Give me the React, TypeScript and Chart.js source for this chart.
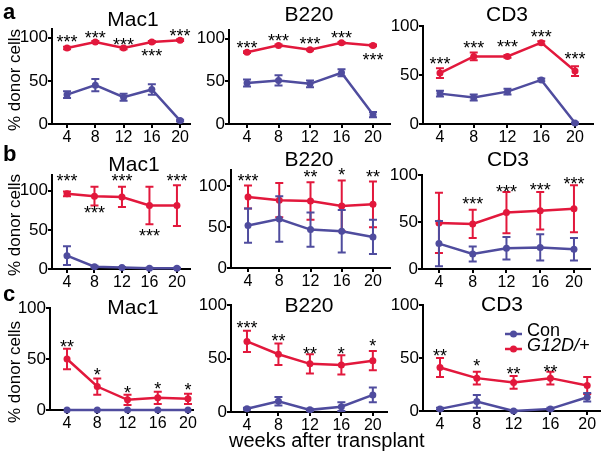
import React, { useEffect, useRef } from "react";
import { Chart, registerables } from "chart.js";
Chart.register(...registerables);

const RED = "#E2183C";
const BLUE = "#4F4C9E";
const FONT = "'Liberation Sans', Arial, sans-serif";

const weeks = [4, 8, 12, 16, 20];
const yTickValues = [0, 50, 100];
const seriesNames = ["Con", "G12D/+"];

// ---- row a ----
const aMac1Con = [34, 45, 31, 40, 4];
const aMac1ConErr = [4, 7, 4, 6, 1];
const aMac1G12D = [88, 95, 88, 95, 97];
const aMac1G12DErr = [1.5, 1, 1.5, 1, 1];
const aMac1Stars = ["***", "***", "***", "***", "***"];
const aMac1StarY = [100, 104, 96, 83, 107];

const aB220Con = [48, 51, 47, 60, 11];
const aB220ConErr = [4, 6, 4, 4, 3];
const aB220G12D = [84, 92, 87, 95, 92];
const aB220G12DErr = [1, 1, 1, 1, 1];
const aB220Stars = ["***", "***", "***", "***", "***"];
const aB220StarY = [94, 102, 98, 105, 79];

const aCD3Con = [31, 27, 33, 45, 1];
const aCD3ConErr = [3, 3, 3, 1.5, 0.5];
const aCD3G12D = [52, 69, 69, 83, 54];
const aCD3G12DErr = [5, 4, 1.5, 1.5, 5];
const aCD3Stars = ["***", "***", "***", "***", "***"];
const aCD3StarY = [65, 82, 83, 93, 70];

// ---- row b ----
const bMac1Con = [17, 3, 2, 1, 1];
const bMac1ConErr = [12, 1, 0.5, 0.5, 0.5];
const bMac1G12D = [96, 93, 92, 81, 81];
const bMac1G12DErr = [3, 12, 13, 24, 26];
const bMac1Stars = ["***", "***", "***", "***", "***"];
const bMac1StarY = [118, 76, 117, 47, 117];

const bB220Con = [52, 60, 47, 45, 38];
const bB220ConErr = [21, 28, 21, 26, 21];
const bB220G12D = [87, 83, 82, 76, 78];
const bB220G12DErr = [14, 21, 23, 31, 28];
const bB220Stars = ["***", "", "**", "*", "**"];
const bB220StarY = [111, 0, 116, 119, 116];

const bCD3Con = [27, 16, 22, 23, 21];
const bCD3ConErr = [24, 8, 12, 14, 12];
const bCD3G12D = [49, 48, 60, 62, 64];
const bCD3G12DErr = [32, 15, 22, 20, 25];
const bCD3Stars = ["", "***", "***", "***", "***"];
const bCD3StarY = [0, 73, 86, 88, 95];

// ---- row c ----
const cMac1Con = [0, 0, 0, 0, 0];
const cMac1ConErr = [0, 0, 0, 0, 0];
const cMac1G12D = [50, 23, 10, 12, 11];
const cMac1G12DErr = [10, 8, 5, 6, 5];
const cMac1Stars = ["**", "*", "*", "*", "*"];
const cMac1StarY = [66, 38, 21, 25, 24];

const cB220Con = [3, 10, 2, 5, 16];
const cB220ConErr = [1, 4, 1, 4, 7];
const cB220G12D = [66, 54, 45, 44, 48];
const cB220G12DErr = [10, 10, 9, 9, 9];
const cB220Stars = ["***", "**", "**", "*", "*"];
const cB220StarY = [82, 70, 58, 58, 65];

const cCD3Con = [2, 9, 0, 2, 13];
const cCD3ConErr = [1, 6, 0.5, 1, 4];
const cCD3G12D = [41, 31, 27, 31, 24];
const cCD3G12DErr = [9, 6, 6, 6, 8];
const cCD3Stars = ["**", "*", "**", "**", ""];
const cCD3StarY = [56, 46, 39, 41, 0];

type Panel = {
  title: string;
  con: number[]; conErr: number[];
  g12d: number[]; g12dErr: number[];
  stars: string[]; starY: number[];
  yMax: number; xMin: number; xMax: number;
  axisX: number; right: number; top: number; zero: number;
  tx: number; ty: number;
  legend?: boolean;
};

const panels: Panel[] = [
  { title: "Mac1", con: aMac1Con, conErr: aMac1ConErr, g12d: aMac1G12D, g12dErr: aMac1G12DErr, stars: aMac1Stars, starY: aMac1StarY,
    yMax: 110, xMin: 1.87, xMax: 21.4, axisX: 52, right: 190, top: 29, zero: 124, tx: 133, ty: 20 },
  { title: "B220", con: aB220Con, conErr: aB220ConErr, g12d: aB220G12D, g12dErr: aB220G12DErr, stars: aB220Stars, starY: aB220StarY,
    yMax: 110, xMin: 1.71, xMax: 22.16, axisX: 229, right: 390, top: 30, zero: 124, tx: 309, ty: 15 },
  { title: "CD3", con: aCD3Con, conErr: aCD3ConErr, g12d: aCD3G12D, g12dErr: aCD3G12DErr, stars: aCD3Stars, starY: aCD3StarY,
    yMax: 100, xMin: 1.99, xMax: 22.13, axisX: 423, right: 593, top: 26, zero: 124, tx: 507, ty: 15 },
  { title: "Mac1", con: bMac1Con, conErr: bMac1ConErr, g12d: bMac1G12D, g12dErr: bMac1G12DErr, stars: bMac1Stars, starY: bMac1StarY,
    yMax: 120, xMin: 1.82, xMax: 21.9, axisX: 52, right: 190, top: 175, zero: 269, tx: 134, ty: 165 },
  { title: "B220", con: bB220Con, conErr: bB220ConErr, g12d: bB220G12D, g12dErr: bB220G12DErr, stars: bB220Stars, starY: bB220StarY,
    yMax: 120, xMin: 1.82, xMax: 22.18, axisX: 231, right: 390, top: 170, zero: 268, tx: 309, ty: 160 },
  { title: "CD3", con: bCD3Con, conErr: bCD3ConErr, g12d: bCD3G12D, g12dErr: bCD3G12DErr, stars: bCD3Stars, starY: bCD3StarY,
    yMax: 100, xMin: 1.99, xMax: 21.9, axisX: 422, right: 590, top: 175, zero: 269, tx: 508, ty: 160 },
  { title: "Mac1", con: cMac1Con, conErr: cMac1ConErr, g12d: cMac1G12D, g12dErr: cMac1G12DErr, stars: cMac1Stars, starY: cMac1StarY,
    yMax: 100, xMin: 1.75, xMax: 20.66, axisX: 50, right: 193, top: 308, zero: 410, tx: 133, ty: 308 },
  { title: "B220", con: cB220Con, conErr: cB220ConErr, g12d: cB220G12D, g12dErr: cB220G12DErr, stars: cB220Stars, starY: cB220StarY,
    yMax: 100, xMin: 1.97, xMax: 21.8, axisX: 231, right: 387, top: 305, zero: 412, tx: 309, ty: 306 },
  { title: "CD3", con: cCD3Con, conErr: cCD3ConErr, g12d: cCD3G12D, g12dErr: cCD3G12DErr, stars: cCD3Stars, starY: cCD3StarY,
    yMax: 100, xMin: 2.15, xMax: 21.5, axisX: 423, right: 601, top: 305, zero: 411, tx: 502, ty: 305, legend: true },
];

const PAD_L = 50, PAD_T = 34, PAD_R = 10, PAD_B = 26;

const errorBarPlugin = {
  id: "errorBars",
  afterDatasetDraw(chart: any, args: any) {
    const ds = chart.data.datasets[args.index];
    const errs = ds.errors as number[] | undefined;
    if (!errs) return;
    const ctx = chart.ctx;
    const ys = chart.scales.y;
    ctx.save();
    ctx.strokeStyle = ds.borderColor;
    ctx.lineWidth = 2;
    args.meta.data.forEach((pt: any, i: number) => {
      const e = errs[i];
      if (!e) return;
      const v = ds.data[i].y;
      const y1 = ys.getPixelForValue(v + e);
      const y2 = ys.getPixelForValue(v - e);
      ctx.beginPath();
      ctx.moveTo(pt.x, y1); ctx.lineTo(pt.x, y2);
      ctx.moveTo(pt.x - 4, y1); ctx.lineTo(pt.x + 4, y1);
      ctx.moveTo(pt.x - 4, y2); ctx.lineTo(pt.x + 4, y2);
      ctx.stroke();
    });
    ctx.restore();
  },
};

function PanelChart({ p }: { p: Panel }) {
  const ref = useRef<HTMLCanvasElement | null>(null);
  const w = p.right - p.axisX + PAD_L + PAD_R;
  const h = p.zero - p.top + PAD_T + PAD_B;
  const left = p.axisX - PAD_L;
  const top = p.top - PAD_T;

  useEffect(() => {
    if (!ref.current) return;
    const annot = {
      id: "annot",
      afterDraw(chart: any) {
        const ctx = chart.ctx;
        const xs = chart.scales.x, ys = chart.scales.y;
        ctx.save();
        ctx.fillStyle = "#000";
        ctx.font = `21px ${FONT}`;
        ctx.textAlign = "center";
        ctx.textBaseline = "middle";
        ctx.fillText(p.title, p.tx - left, p.ty - top);
        ctx.font = `18px ${FONT}`;
        ctx.textBaseline = "alphabetic";
        weeks.forEach((wk, i) => {
          if (!p.stars[i]) return;
          ctx.fillText(p.stars[i], xs.getPixelForValue(wk), ys.getPixelForValue(p.starY[i]) + 10);
        });
        if (p.legend) {
          const items = [
            { name: seriesNames[0], color: BLUE, y: 334, italic: false },
            { name: seriesNames[1], color: RED, y: 349, italic: true },
          ];
          items.forEach((it) => {
            const yy = it.y - top;
            ctx.strokeStyle = it.color;
            ctx.lineWidth = 2.5;
            ctx.beginPath();
            ctx.moveTo(505 - left, yy); ctx.lineTo(522 - left, yy);
            ctx.stroke();
            ctx.fillStyle = it.color;
            ctx.beginPath();
            ctx.arc(513.5 - left, yy, 3.5, 0, Math.PI * 2);
            ctx.fill();
            ctx.fillStyle = "#000";
            ctx.textAlign = "left";
            ctx.textBaseline = "middle";
            ctx.font = `${it.italic ? "italic " : ""}18px ${FONT}`;
            ctx.fillText(it.name, 527 - left, yy - 3);
          });
        }
        ctx.restore();
      },
    };

    const mk = (label: string, vals: number[], errs: number[], color: string) => ({
      label,
      data: weeks.map((x, i) => ({ x, y: vals[i] })),
      errors: errs,
      borderColor: color,
      backgroundColor: color,
      pointBackgroundColor: color,
      pointBorderColor: color,
      pointRadius: 3.5,
      pointBorderWidth: 0,
      borderWidth: 2.5,
      tension: 0,
      clip: false,
    });

    const chart = new Chart(ref.current, {
      type: "line",
      data: {
        datasets: [
          mk(seriesNames[0], p.con, p.conErr, BLUE),
          mk(seriesNames[1], p.g12d, p.g12dErr, RED),
        ] as any,
      },
      options: {
        responsive: false,
        animation: false,
        devicePixelRatio: 1,
        layout: { padding: { top: PAD_T, right: PAD_R, left: 0, bottom: 0 } },
        plugins: { legend: { display: false }, tooltip: { enabled: false }, title: { display: false } },
        scales: {
          x: {
            type: "linear",
            min: p.xMin,
            max: p.xMax,
            afterBuildTicks: (s: any) => { s.ticks = weeks.map((v) => ({ value: v })); },
            afterFit: (s: any) => { s.height = PAD_B; s.paddingLeft = 0; s.paddingRight = 0; },
            grid: { display: true, drawOnChartArea: false, drawTicks: true, tickLength: 4, color: "#000", lineWidth: 2 },
            border: { display: true, color: "#000", width: 2 },
            ticks: { font: { family: FONT, size: 16 }, color: "#000", padding: 0, maxRotation: 0, autoSkip: false },
          },
          y: {
            type: "linear",
            min: 0,
            max: p.yMax,
            afterBuildTicks: (s: any) => { s.ticks = yTickValues.map((v) => ({ value: v })); },
            afterFit: (s: any) => { s.width = PAD_L; s.paddingTop = 0; s.paddingBottom = 0; },
            grid: { display: true, drawOnChartArea: false, drawTicks: true, tickLength: 4, color: "#000", lineWidth: 2 },
            border: { display: true, color: "#000", width: 2 },
            ticks: { font: { family: FONT, size: 17 }, color: "#000", padding: 0, autoSkip: false },
          },
        },
      } as any,
      plugins: [errorBarPlugin, annot] as any,
    });
    return () => chart.destroy();
  }, []);

  return (
    <canvas
      ref={ref}
      width={w}
      height={h}
      style={{ position: "absolute", left, top, width: w, height: h }}
    />
  );
}

const textBase: React.CSSProperties = {
  position: "absolute",
  fontFamily: FONT,
  color: "#000",
  lineHeight: 1,
  whiteSpace: "nowrap",
};

export default function App() {
  const yTitleCenters = [80, 225, 372];
  const letters = [
    { t: "a", top: 1.4 },
    { t: "b", top: 143.4 },
    { t: "c", top: 283.4 },
  ];
  return (
    <div
      style={{
        position: "absolute",
        left: 0,
        top: 0,
        width: 601,
        height: 457,
        overflow: "hidden",
        background: "#fff",
      }}
    >
      {panels.map((p, i) => (
        <PanelChart key={i} p={p} />
      ))}
      {letters.map((l) => (
        <div key={l.t} style={{ ...textBase, left: 3, top: l.top, fontSize: 22, fontWeight: "bold" }}>
          {l.t}
        </div>
      ))}
      {yTitleCenters.map((cy, i) => (
        <div
          key={i}
          style={{
            ...textBase,
            left: 14,
            top: cy,
            fontSize: 17,
            transform: "translate(-50%, -50%) rotate(-90deg)",
          }}
        >
          % donor cells
        </div>
      ))}
      <div style={{ ...textBase, left: 229, top: 430, fontSize: 20 }}>weeks after transplant</div>
    </div>
  );
}
